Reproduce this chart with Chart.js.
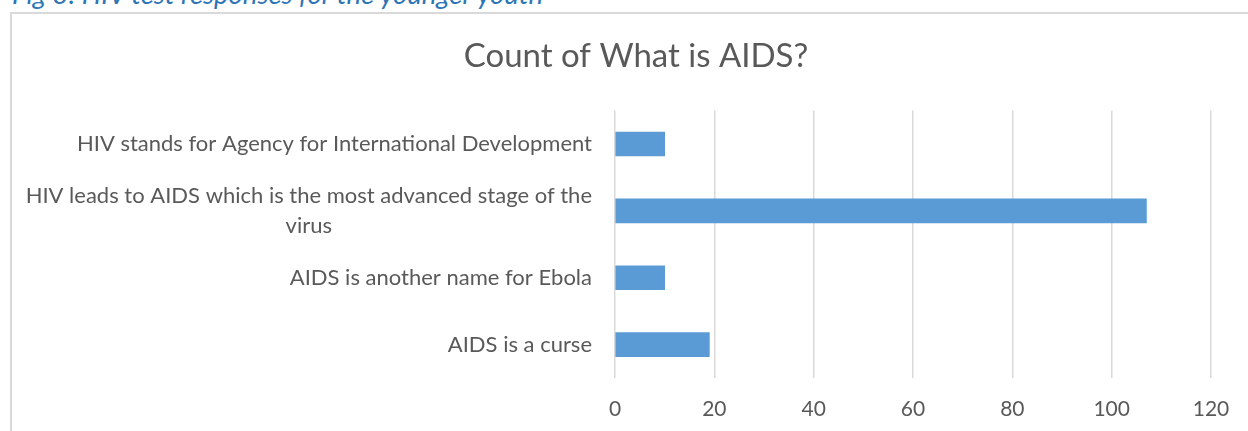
<!DOCTYPE html>
<html>
<head>
<meta charset="utf-8">
<script src="https://cdn.jsdelivr.net/npm/chart.js@4/dist/chart.umd.min.js"></script>
<style>
    html, body { margin: 0; padding: 0; background: #fff; overflow: hidden; width: 1248px; height: 431px; }
    #caption {
        position: absolute; left: 12px; top: -20px; white-space: nowrap;
        font: italic 27.5px Lato, sans-serif; line-height: 27.5px; color: #2e75b6;
    }
    #box {
        position: absolute; left: 10px; top: 12px; width: 1248px; height: 440px;
        border: 2px solid #d9d9d9;
    }
</style>
</head>
<body>
<div id="caption">Fig 3: HIV test responses for the younger youth</div>
<div id="box"><canvas id="aids-chart"></canvas></div>
<script>
// Data (top to bottom as shown)
const categories = [
    'HIV stands for Agency for International Development',
    ['HIV leads to AIDS which is the most advanced stage of the', 'virus'],
    'AIDS is another name for Ebola',
    'AIDS is a curse'
];
const counts = [10, 107, 10, 19];
const xTicks = [0, 20, 40, 60, 80, 100, 120];

const textColor = '#595959';
const labelFont = '22px Lato';

// y labels: block right aligned, wrapped lines centred (like Excel)
const yLabelPlugin = {
    id: 'yLabels',
    afterDraw(chart) {
        const ctx = chart.ctx;
        const yScale = chart.scales.y;
        const right = chart.chartArea.left - 23;
        ctx.save();
        ctx.font = labelFont;
        ctx.fillStyle = textColor;
        ctx.textAlign = 'center';
        ctx.textBaseline = 'middle';
        categories.forEach(function (label, i) {
            const lines = Array.isArray(label) ? label : [label];
            const maxW = Math.max.apply(null, lines.map(function (l) { return ctx.measureText(l).width; }));
            const cy = yScale.getPixelForValue(i);
            const lineH = 30;
            lines.forEach(function (line, j) {
                const y = cy + (j - (lines.length - 1) / 2) * lineH;
                ctx.fillText(line, right - maxW / 2, y);
            });
        });
        ctx.restore();
    }
};

const chartElement = document.getElementById('aids-chart');
new Chart(chartElement, {
    type: 'bar',
    data: {
        labels: categories,
        datasets: [{
            label: 'Count',
            data: counts,
            backgroundColor: '#5b9bd5',
            borderWidth: 0,
            barThickness: 24
        }]
    },
    options: {
        indexAxis: 'y',
        responsive: true,
        maintainAspectRatio: false,
        devicePixelRatio: 1,
        animation: false,
        layout: { padding: 0 },
        plugins: {
            legend: { display: false },
            tooltip: { enabled: false },
            title: {
                display: true,
                text: 'Count of What is AIDS?',
                color: textColor,
                font: { family: 'Lato', size: 33, weight: 'normal', lineHeight: 1.2 },
                padding: { top: 23, bottom: 34 }
            }
        },
        scales: {
            x: {
                min: xTicks[0],
                max: xTicks[xTicks.length - 1],
                afterBuildTicks(scale) {
                    scale.ticks = xTicks.map(function (v) { return { value: v }; });
                },
                afterFit(scale) { scale.height = 76; },
                grid: { color: '#d9d9d9', lineWidth: 1.5, drawTicks: false },
                border: { display: false },
                ticks: {
                    color: textColor,
                    font: { family: 'Lato', size: 21 },
                    padding: 19
                }
            },
            y: {
                afterFit(scale) { scale.width = 603; },
                grid: { display: false },
                border: { display: false },
                ticks: { display: false }
            },
            // empty right-hand spacer so the title stays centred on the whole box
            yRight: {
                type: 'category',
                position: 'right',
                afterFit(scale) { scale.width = 49; },
                grid: { display: false },
                border: { display: false },
                ticks: { display: false }
            }
        }
    },
    plugins: [yLabelPlugin]
});
</script>
</body>
</html>
